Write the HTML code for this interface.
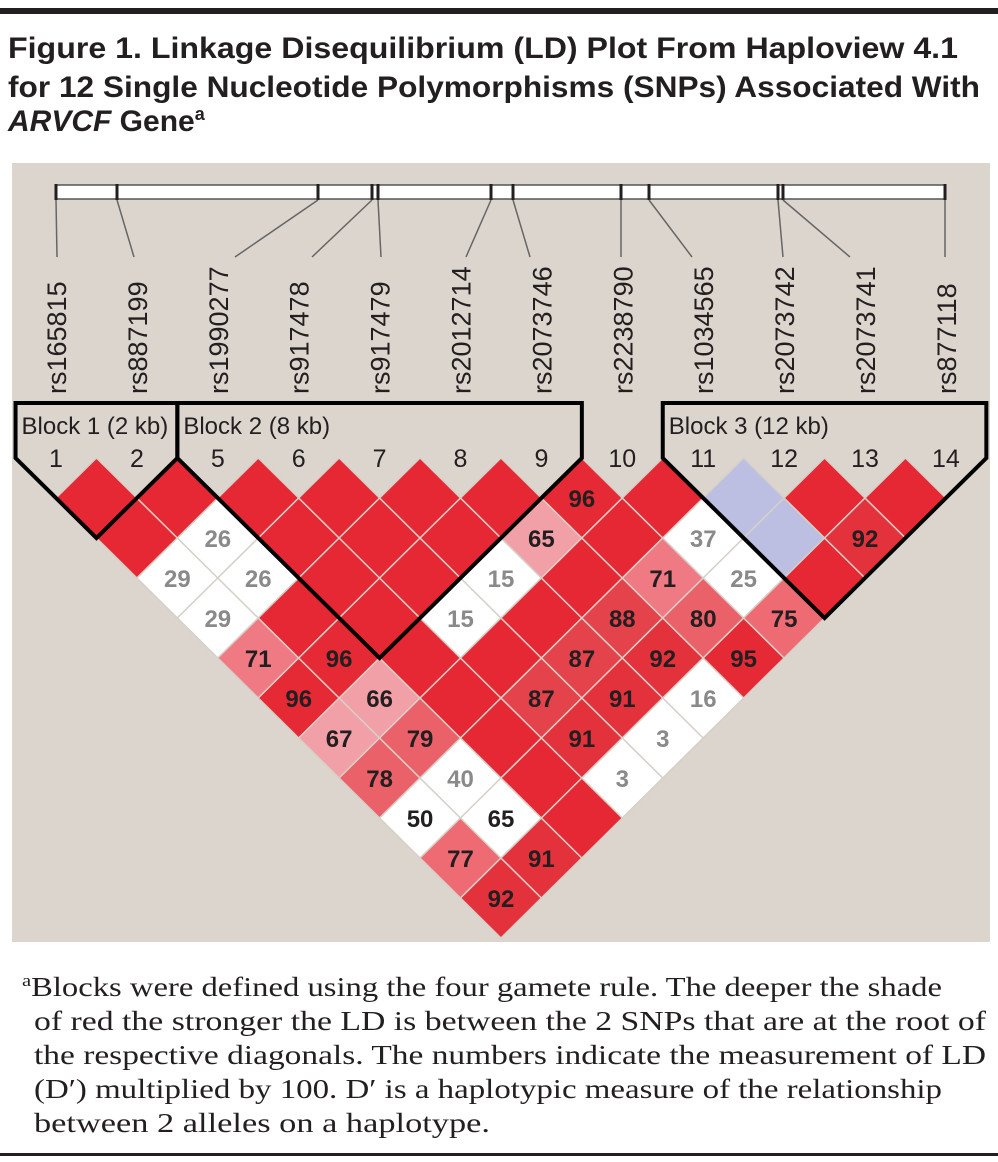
<!DOCTYPE html>
<html><head><meta charset="utf-8"><style>
html,body{margin:0;padding:0;background:#fff;}
svg{display:block;}
</style></head><body>
<svg id="fig" width="998" height="1162" viewBox="0 0 998 1162" xmlns="http://www.w3.org/2000/svg">
<rect x="0" y="8" width="998" height="6" fill="#231f20"/>
<g font-family="Liberation Sans, sans-serif" font-weight="bold" font-size="30" fill="#231f20">
<text x="8" y="58" textLength="950" lengthAdjust="spacingAndGlyphs">Figure 1. Linkage Disequilibrium (LD) Plot From Haploview 4.1</text>
<text x="8" y="97" textLength="972" lengthAdjust="spacingAndGlyphs">for 12 Single Nucleotide Polymorphisms (SNPs) Associated With</text>
<text x="8" y="131"><tspan font-style="italic">ARVCF</tspan> Gene<tspan font-size="18" dy="-11">a</tspan></text>
</g>
<rect x="12" y="163" width="978" height="779" fill="#dbd5cd"/>
<g id="chart"></g>
<g font-family="Liberation Serif, serif" font-size="27" fill="#231f20">
<text x="22" y="996" textLength="920" lengthAdjust="spacingAndGlyphs"><tspan font-size="17" dy="-10">a</tspan><tspan dy="10">Blocks were defined using the four gamete rule. The deeper the shade</tspan></text>
<text x="34" y="1030" textLength="952" lengthAdjust="spacingAndGlyphs">of red the stronger the LD is between the 2 SNPs that are at the root of</text>
<text x="34" y="1064" textLength="952" lengthAdjust="spacingAndGlyphs">the respective diagonals. The numbers indicate the measurement of LD</text>
<text x="34" y="1098" textLength="908" lengthAdjust="spacingAndGlyphs">(D′) multiplied by 100. D′ is a haplotypic measure of the relationship</text>
<text x="34" y="1132" textLength="456" lengthAdjust="spacingAndGlyphs">between 2 alleles on a haplotype.</text>
</g>
<rect x="0" y="1153" width="998" height="3" fill="#231f20"/>
</svg>
<script>
const snpNames = ["rs165815","rs887199","rs1990277","rs917478","rs917479","rs2012714","rs2073746","rs2238790","rs1034565","rs2073742","rs2073741","rs877118"];
const snpNumbers = ["1","2","5","6","7","8","9","10","11","12","13","14"];
const physPos = [56,117,318,372,378,491,513,621,649,778,783,945];
const lineEnds = [57,134,235,312,381,466,530,621,692,783,850,945];
// [i, j, D'x100, shade] shade: r=red-scale, w=white(grey text), k=white(black text), b=blue
const cellI = [6,5,1,7,9,0,1,4,6,7,0,3,5,6,7,0,1,4,5,6,0,1,3,4,5,0,1,3,4,0,1,3,0,1,0,1,0,8,8];
const cellJ = [7,7,3,9,11,3,4,7,9,10,4,7,9,10,11,5,6,9,10,11,6,7,9,10,11,7,8,10,11,8,9,11,9,10,10,11,11,9,10];
const cellV = [96,65,26,37,92,29,26,15,71,25,29,15,88,80,75,71,96,87,92,95,96,66,87,91,16,67,79,91,3,78,40,3,50,65,77,91,92,null,null];
const cellS = ["r","r","w","w","r","w","w","w","r","w","w","w","r","r","r","r","r","r","r","r","r","r","r","r","w","r","r","r","w","r","w","w","k","k","r","r","r","b","b"];
const blocks = [[0,1,"Block 1 (2 kb)"],[2,6,"Block 2 (8 kb)"],[8,11,"Block 3 (12 kb)"]];

const NS="http://www.w3.org/2000/svg";
const chart=document.getElementById('chart');
const x0=56, dx=80.9, y0=498, dy=40;
const colX=i=>x0+dx*i;
const cx=(i,j)=>x0+dx*(i+j)/2;
const cy=(i,j)=>y0+dy*(j-i-1);
function mk(tag,attrs,parent){const e=document.createElementNS(NS,tag);for(const k in attrs)e.setAttribute(k,attrs[k]);(parent||chart).appendChild(e);return e;}
function redShade(v){
  if(v>=95) return "#e52a35";
  if(v>=90) return "#e4323c";
  if(v>=85) return "#e5434c";
  if(v>=78) return "#eb6169";
  if(v>=73) return "#ee6b73";
  if(v>=68) return "#f07a84";
  if(v>=60) return "#f2a0a8";
  return "#f6c8cc";
}
const bar=mk('rect',{x:56,y:185,width:889,height:14,fill:'#fff',stroke:'#555','stroke-width':1.5});


physPos.forEach((p,k)=>{
  const t=mk('line',{x1:p,y1:184,x2:p,y2:200,stroke:'#231f20','stroke-width':3});
  
  
  const l=mk('line',{x1:p,y1:200,x2:lineEnds[k],y2:257,stroke:'#666','stroke-width':1.5});
  
  
  const tx=mk('text',{x:0,y:0,transform:`translate(${colX(k)+10},394) rotate(-90)`,'font-family':'Liberation Sans, sans-serif','font-size':'27',fill:'#231f20'});
  tx.textContent=snpNames[k];
  
  
  const n=mk('text',{x:colX(k),y:467,'text-anchor':'middle','font-family':'Liberation Sans, sans-serif','font-size':'25',fill:'#231f20'});
  n.textContent=snpNumbers[k];
  
  
});
const lookup={};
cellI.forEach((i,k)=>{lookup[i+','+cellJ[k]]=k;});
for(let i=0;i<12;i++)for(let j=i+1;j<12;j++){
  const k=lookup[i+','+j];
  let fill="#e52833", v=null, s="r";
  if(k!==undefined){v=cellV[k];s=cellS[k];
    fill = s==="b"?"#bcbfe2":(s==="w"||s==="k")?"#ffffff":redShade(v);}
  const X=cx(i,j),Y=cy(i,j),h=dx/2;
  const d=mk('polygon',{points:`${X},${Y-dy} ${X+h},${Y} ${X},${Y+dy} ${X-h},${Y}`,fill:fill,stroke:'#d6d0c8','stroke-width':1.5});
  
  
  if(v!==null){
    const t=mk('text',{x:X,y:Y+9,'text-anchor':'middle','font-family':'Liberation Sans, sans-serif','font-size':'24','font-weight':'bold',fill:(s==="w")?'#8a8a8a':'#231f20'});
    t.textContent=v;
    
    
  }
}
blocks.forEach(b=>{
  const a=b[0],e=b[1];
  const L=colX(a)-dx/2, R=colX(e)+dx/2;
  const bx=cx(a,e), by=cy(a,e)+dy;
  const p=mk('path',{d:`M${L},403 H${R} V458 L${bx},${by} L${L},458 Z`,fill:'none',stroke:'#000','stroke-width':4,'stroke-linejoin':'miter'});
  
  
  const t=mk('text',{x:L+6,y:434,'font-family':'Liberation Sans, sans-serif','font-size':'24',fill:'#231f20'});
  t.textContent=b[2];
  
  
});
</script>
</body></html>
